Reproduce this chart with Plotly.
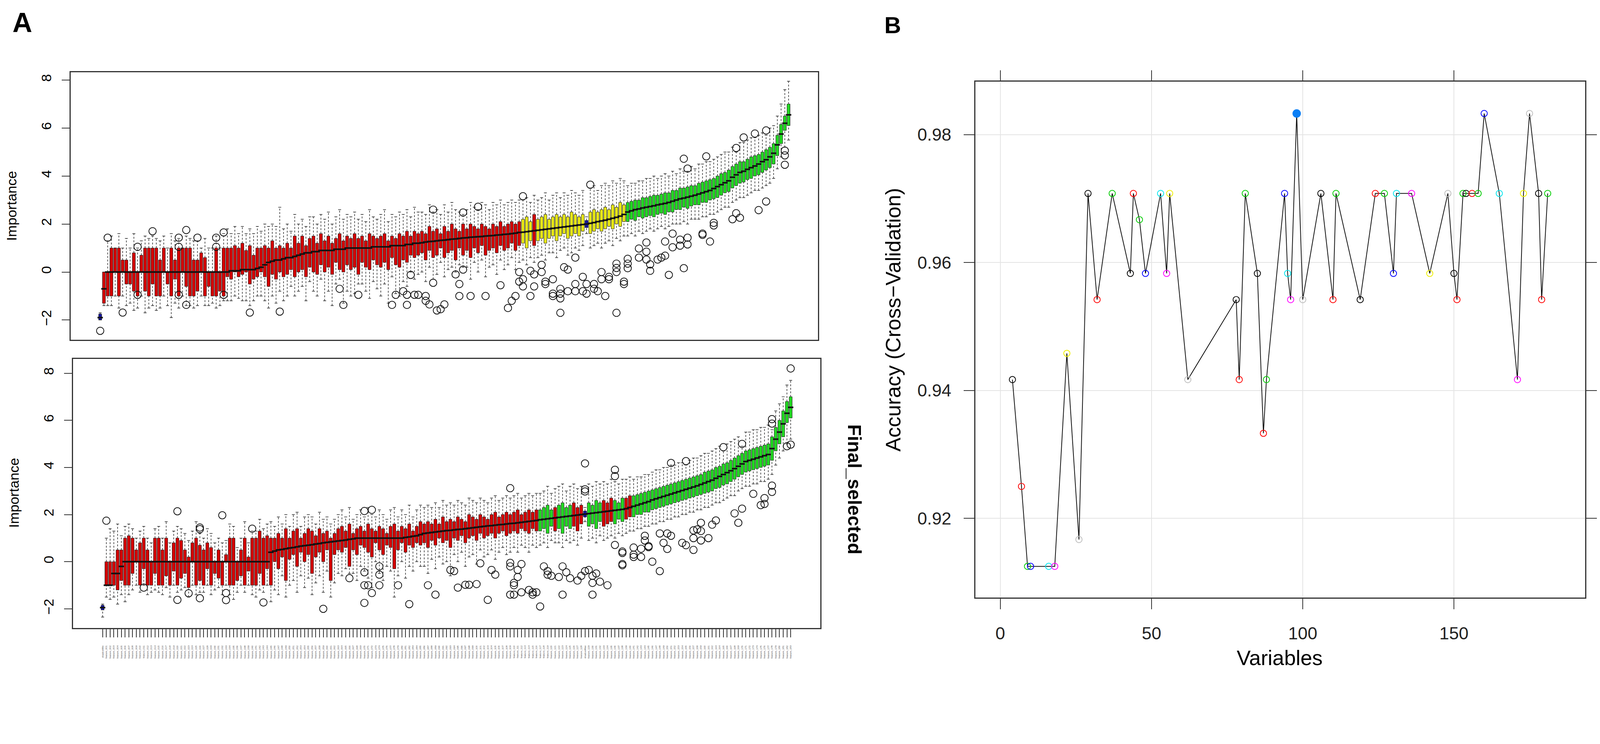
import plotly.graph_objects as go

# design coordinates are the reference picture's pixels; S maps them to page pixels
REF_W, REF_H = 4562, 1905
S = 0.8955
W, H = round(REF_W * S), round(REF_H * S)
FONT = "Liberation Sans"

# ---------------- Panel A, top: Boruta importance (boxes sorted by median) ----------------
# decision runs from left to right: S = shadow, R = rejected, Y = tentative, G = confirmed
TOP_RUNS = [("S", 1), ("R", 112), ("Y", 3), ("R", 1), ("Y", 13), ("S", 1), ("Y", 10), ("G", 44)]

TOP_MED = [
    -1.9, -0.7, 0, 0, 0, 0, 0, 0, 0, 0,
    0, 0, 0, 0, 0, 0, 0, 0, 0, 0,
    0, 0, 0, 0, 0, 0, 0, 0, 0, 0,
    0, 0, 0, 0, 0.0, 0.05, 0.05, 0.05, 0.1, 0.1,
    0.1, 0.1, 0.15, 0.2, 0.3, 0.4, 0.45, 0.5, 0.5, 0.55,
    0.6, 0.6, 0.65, 0.7, 0.75, 0.8, 0.8, 0.85, 0.85, 0.9,
    0.9, 0.9, 0.9, 0.95, 0.95, 0.95, 1.0, 1.0, 1.0, 1.0,
    1.0, 1.0, 1.0, 1.05, 1.05, 1.05, 1.05, 1.05, 1.1, 1.1,
    1.1, 1.1, 1.15, 1.15, 1.2, 1.2, 1.22, 1.25, 1.27, 1.28,
    1.3, 1.32, 1.33, 1.35, 1.37, 1.38, 1.4, 1.42, 1.43, 1.45,
    1.46, 1.47, 1.48, 1.5, 1.51, 1.52, 1.54, 1.55, 1.57, 1.58,
    1.6, 1.62, 1.65, 1.66, 1.68, 1.7, 1.72, 1.74, 1.76, 1.78,
    1.8, 1.82, 1.84, 1.86, 1.88, 1.9, 1.92, 1.94, 1.96, 1.98,
    2.0, 2.03, 2.06, 2.1, 2.13, 2.16, 2.2, 2.24, 2.28, 2.33,
    2.4, 2.5, 2.55, 2.6, 2.63, 2.67, 2.7, 2.73, 2.76, 2.8,
    2.83, 2.86, 2.9, 2.95, 3.0, 3.05, 3.08, 3.12, 3.16, 3.2,
    3.25, 3.3, 3.35, 3.4, 3.48, 3.56, 3.64, 3.72, 3.8, 3.95,
    4.05, 4.15, 4.2, 4.28, 4.35, 4.42, 4.5, 4.6, 4.68, 4.8,
    4.95, 5.3, 5.75, 6.2, 6.55,
]
TOP_Q1 = [
    -2.0, -1.3, -1.0, -1.0, 0.0, -1.0, 0.0, -0.5, -0.5, -0.8,
    -1.0, 0.0, -0.8, -1.0, -0.5, -1.0, -1.0, 0.0, -0.5, -1.0,
    -0.3, -1.0, 0.0, -0.6, -1.0, -1.0, -0.8, 0.0, -1.0, -0.6,
    -1.0, -1.0, -0.8, -1.0, -0.2, -0.3, 0.0, -0.2, -0.1, 0.0,
    -0.5, -0.3, -0.2, 0.0, -0.2, -0.6, -0.1, -0.3, 0.0, -0.2,
    -0.1, 0.1, -0.2, 0.0, 0.1, -0.2, 0.2, 0.0, -0.1, 0.3,
    0.0, 0.2, -0.1, 0.4, 0.1, 0.0, 0.3, 0.1, 0.2, -0.1,
    0.4, 0.2, 0.1, 0.5, 0.3, 0.2, 0.4, 0.1, 0.6, 0.3,
    0.2, 0.5, 0.4, 0.7, 0.6, 0.7, 0.8, 0.5, 0.9, 0.6,
    0.7, 1.0, 0.6, 0.8, 0.9, 0.5, 1.0, 0.7, 0.9, 0.6,
    1.0, 0.8, 1.1, 0.7, 0.9, 1.0, 0.8, 1.1, 0.9, 1.0,
    1.2, 0.9, 1.1, 1.2, 1.0, 1.3, 1.1, 1.3, 1.4, 1.2,
    1.4, 1.5, 1.3, 1.5, 1.6, 1.4, 1.5, 1.6, 1.5, 1.7,
    1.85, 1.6, 1.7, 1.8, 1.7, 1.8, 1.9, 1.8, 2.0, 1.9,
    2.1, 2.1, 2.2, 2.15, 2.3, 2.25, 2.3, 2.35, 2.3, 2.4,
    2.45, 2.4, 2.5, 2.5, 2.6, 2.6, 2.7, 2.65, 2.75, 2.8,
    2.8, 2.9, 2.9, 3.0, 3.05, 3.1, 3.2, 3.3, 3.35, 3.5,
    3.6, 3.7, 3.75, 3.85, 3.9, 4.0, 4.05, 4.15, 4.25, 4.35,
    4.5, 4.85, 5.35, 5.9, 6.1,
]
TOP_Q3 = [
    -1.75, 0.0, 0.0, 1.0, 1.0, 1.0, 0.5, 0.5, 0.0, 0.8,
    0.0, 0.7, 1.0, 1.0, 1.0, 1.0, 0.5, 1.0, 0.0, 1.0,
    0.5, 1.0, 1.0, 1.0, 1.0, 0.5, 0.5, 0.8, 0.6, 0.0,
    0.0, 1.0, 0.0, 1.0, 1.0, 1.0, 1.1, 1.0, 1.2, 0.9,
    1.1, 0.7, 1.0, 1.0, 1.1, 1.0, 1.3, 1.0, 1.1, 1.0,
    1.2, 1.0, 1.5, 1.2, 1.5, 1.1, 1.4, 1.5, 1.2, 1.6,
    1.3, 1.5, 1.2, 1.4, 1.6, 1.3, 1.5, 1.4, 1.6, 1.4,
    1.5, 1.3, 1.6, 1.5, 1.4, 1.5, 1.6, 1.3, 1.5, 1.4,
    1.6, 1.5, 1.7, 1.5, 1.7, 1.6, 1.7, 1.6, 1.9, 1.7,
    1.8, 1.6, 1.9, 1.7, 2.0, 1.8, 1.7, 2.0, 1.8, 2.0,
    1.9, 1.8, 2.0, 1.9, 1.8, 2.0, 1.9, 2.1, 1.9, 2.0,
    2.1, 2.0, 2.1, 2.2, 2.3, 2.1, 2.4, 2.2, 2.3, 2.4,
    2.2, 2.3, 2.4, 2.3, 2.4, 2.3, 2.5, 2.4, 2.3, 2.4,
    2.15, 2.5, 2.6, 2.5, 2.6, 2.7, 2.6, 2.8, 2.7, 2.9,
    2.8, 2.9, 2.95, 3.0, 3.0, 3.1, 3.1, 3.15, 3.2, 3.2,
    3.25, 3.3, 3.3, 3.4, 3.4, 3.5, 3.5, 3.55, 3.6, 3.6,
    3.7, 3.75, 3.8, 3.85, 3.9, 4.0, 4.1, 4.15, 4.25, 4.4,
    4.5, 4.6, 4.6, 4.7, 4.8, 4.85, 4.9, 5.0, 5.1, 5.2,
    5.35, 5.7, 6.15, 6.5, 7.0,
]
TOP_LO = [
    -2.0, -1.4, -1.4, -1.4, -1.0, -1.5, -1.0, -1.4, -1.3, -1.6,
    -1.5, -1.0, -1.7, -1.5, -1.4, -1.6, -1.5, -1.0, -1.4, -1.9,
    -1.3, -1.5, -1.0, -1.4, -1.4, -1.5, -1.4, -1.0, -1.4, -1.4,
    -1.3, -1.5, -1.4, -1.2, -1.2, -1.2, -1.0, -1.1, -1.2, -1.2,
    -1.4, -1.2, -1.0, -1.0, -1.2, -1.5, -1.0, -1.3, -0.8, -1.2,
    -1.0, -0.6, -1.0, -0.8, -0.6, -1.2, -0.4, -0.8, -1.0, -0.3,
    -1.2, -0.8, -1.4, -0.5, -0.3, -1.3, -0.8, -1.0, -0.9, -0.5,
    -0.5, -0.8, -1.1, -0.4, -0.7, -1.0, -0.5, -1.3, -0.2, -0.9,
    -1.0, -0.4, -0.6, 0.0, -0.3, -0.1, 0.0, -0.4, 0.2, -0.3,
    -0.1, 0.4, -0.2, 0.1, 0.2, 0.0, 0.3, 0.2, 0.2, -0.3,
    0.4, 0.0, 0.5, -0.2, 0.2, 0.3, -0.1, 0.5, 0.1, 0.3,
    0.6, 0.1, 0.4, 0.5, 0.3, 0.6, 0.4, 0.6, 0.7, 0.5,
    0.8, 0.8, 0.6, 0.9, 1.0, 0.7, 0.8, 1.0, 0.9, 1.1,
    1.6, 1.0, 1.1, 1.2, 1.0, 1.2, 1.3, 1.1, 1.4, 1.3,
    1.5, 1.5, 1.6, 1.5, 1.7, 1.6, 1.7, 1.8, 1.7, 1.8,
    1.9, 1.8, 1.9, 2.0, 2.0, 2.0, 2.1, 2.0, 2.2, 2.2,
    2.2, 2.3, 2.3, 2.4, 2.4, 2.5, 2.6, 2.7, 2.7, 2.9,
    3.0, 3.1, 3.1, 3.2, 3.3, 3.4, 3.4, 3.5, 3.6, 3.7,
    3.9, 4.3, 4.8, 5.2, 5.5,
]
TOP_HI = [
    -1.7, 0.0, 1.3, 1.5, 1.0, 1.6, 1.0, 1.4, 1.0, 1.6,
    1.0, 1.3, 1.5, 1.4, 1.5, 1.4, 1.3, 1.5, 1.0, 1.6,
    1.3, 1.4, 1.0, 1.5, 1.4, 1.3, 1.3, 1.0, 1.4, 1.0,
    1.0, 1.5, 1.0, 1.6, 1.8, 1.6, 1.9, 1.6, 1.9, 1.6,
    1.8, 1.6, 1.9, 1.7, 2.0, 1.9, 2.0, 1.9, 2.7, 1.8,
    2.0, 1.7, 2.4, 2.0, 2.2, 1.9, 2.3, 2.3, 2.0, 2.4,
    2.2, 2.5, 2.0, 2.3, 2.6, 2.2, 2.4, 2.3, 2.5, 2.2,
    2.4, 2.1, 2.6, 2.3, 2.2, 2.4, 2.6, 2.1, 2.4, 2.3,
    2.5, 2.4, 2.6, 2.3, 2.7, 2.5, 2.5, 2.4, 2.8, 2.5,
    2.6, 2.4, 2.8, 2.5, 2.9, 2.6, 2.5, 2.4, 2.6, 2.9,
    2.7, 2.6, 2.9, 2.8, 2.6, 2.9, 2.8, 3.0, 2.8, 2.9,
    3.0, 2.9, 3.0, 3.0, 3.1, 2.9, 3.2, 3.0, 3.1, 3.3,
    3.0, 3.2, 3.3, 3.1, 3.3, 3.2, 3.4, 3.3, 3.2, 3.4,
    2.3, 3.5, 3.6, 3.4, 3.6, 3.7, 3.6, 3.8, 3.7, 3.9,
    3.8, 3.6, 3.7, 3.7, 3.8, 3.8, 3.9, 3.9, 4.0, 3.9,
    4.0, 4.1, 4.0, 4.2, 4.1, 4.3, 4.2, 4.2, 4.4, 4.3,
    4.5, 4.5, 4.6, 4.6, 4.7, 4.8, 4.9, 5.0, 5.0, 5.2,
    5.0, 5.4, 5.4, 5.5, 5.6, 5.6, 5.7, 5.8, 5.7, 6.0,
    6.1, 6.5, 7.0, 7.6, 7.95,
]
TOP_OUTLIERS = [
    (1, -2.45), (3, 1.43), (7, -1.69), (11, 1.05), (11, -0.95), (15, 1.7), (22, 1.43), (22, 1.05), (22, -0.95),
    (24, 1.75), (24, -1.37), (27, 1.43), (32, 1.43), (32, 1.05), (34, 1.65), (34, -0.95), (41, -1.69),
    (49, -1.65), (65, -0.7), (66, -1.37), (70, -0.95), (79, -1.37), (80, -0.95), (82, -0.8), (83, -0.95),
    (83, -1.37), (84, -0.12), (85, -0.95), (86, -0.95), (88, -1.0), (88, -1.2), (89, -1.35), (90, -0.45),
    (90, 2.6), (91, -1.6), (92, -1.55), (93, -1.35), (96, -0.1), (97, -1.0), (97, -0.5), (98, 0.1), (98, 2.48),
    (100, -1.0), (102, 2.72), (104, -1.0), (108, -0.55), (110, -1.5), (111, -1.2), (112, -1.0), (113, 0.0),
    (113, -0.4), (114, 3.16), (114, -0.6), (114, -0.3), (116, -1.0), (116, 0.05), (117, -0.6), (117, -0.1),
    (119, 0.3), (119, 0.0), (120, -0.4), (120, -0.5), (122, -1.0), (122, -0.9), (122, -0.3), (124, -0.9),
    (124, -0.7), (124, -1.1), (124, -1.7), (125, 0.2), (126, 0.1), (126, -0.8), (128, 0.6), (128, -0.5),
    (128, -0.8), (130, -0.2), (130, -0.8), (131, -0.9), (131, -0.5), (132, 3.64), (133, -0.5), (133, -0.7),
    (134, -0.8), (135, 0.0), (135, -0.3), (136, -1.0), (137, -0.3), (137, -0.2), (139, 0.35), (139, 0.0),
    (139, 0.17), (139, -1.7), (141, -0.5), (141, -0.4), (142, 0.55), (142, 0.35), (142, 0.16), (145, 0.98),
    (145, 0.6), (147, 0.52), (147, 0.85), (147, 1.23), (148, 0.05), (148, 0.32), (150, 0.52), (151, 0.6),
    (152, 0.68), (152, 1.27), (153, -0.12), (154, 1.6), (154, 1.03), (156, 1.35), (156, 1.1), (157, 0.16),
    (157, 4.72), (158, 1.43), (158, 1.15), (158, 4.31), (162, 1.6), (162, 1.55), (163, 4.82), (164, 1.27),
    (165, 2.05), (165, 1.94), (170, 2.2), (171, 2.45), (171, 5.17), (172, 2.26), (173, 5.61), (176, 5.77),
    (177, 2.58), (179, 2.94), (179, 5.9), (184, 5.06), (184, 4.86), (184, 4.47),
]

# ---------------- Panel A, bottom: Final_selected ----------------
BOT_RUNS = [("S", 1), ("R", 116), ("G", 4), ("R", 1), ("G", 4), ("R", 3), ("S", 1), ("G", 4), ("R", 3),
            ("G", 3), ("R", 2), ("G", 43)]

BOT_MED = [
    -1.95, -1.0, -1.0, -0.5, -0.5, -0.2, 0, 0, 0, 0,
    0, 0, 0, 0, 0, 0, 0, 0, 0, 0,
    0, 0, 0, 0, 0, 0, 0, 0, 0, 0,
    0, 0, 0, 0, 0, 0, 0, 0, 0, 0,
    0, 0, 0, 0, 0, 0.4, 0.45, 0.5, 0.52, 0.55,
    0.58, 0.6, 0.63, 0.66, 0.68, 0.7, 0.72, 0.75, 0.77, 0.8,
    0.82, 0.84, 0.86, 0.88, 0.9, 0.92, 0.95, 0.97, 1.0, 1.0,
    1.0, 1.0, 1.0, 1.0, 1.0, 1.0, 1.0, 1.0, 1.0, 1.0,
    1.0, 1.03, 1.05, 1.08, 1.1, 1.15, 1.2, 1.22, 1.24, 1.26,
    1.28, 1.3, 1.32, 1.33, 1.35, 1.37, 1.38, 1.4, 1.42, 1.44,
    1.46, 1.48, 1.5, 1.52, 1.53, 1.55, 1.57, 1.58, 1.6, 1.62,
    1.63, 1.65, 1.67, 1.69, 1.71, 1.73, 1.75, 1.78, 1.8, 1.82,
    1.84, 1.86, 1.88, 1.9, 1.92, 1.94, 1.96, 1.98, 2.0, 2.02,
    2.04, 2.06, 2.08, 2.1, 2.12, 2.14, 2.16, 2.18, 2.2, 2.22,
    2.25, 2.3, 2.35, 2.4, 2.45, 2.5, 2.55, 2.62, 2.67, 2.72,
    2.77, 2.82, 2.87, 2.92, 2.97, 3.02, 3.07, 3.12, 3.17, 3.22,
    3.28, 3.34, 3.4, 3.46, 3.54, 3.62, 3.7, 3.78, 3.86, 3.95,
    4.05, 4.15, 4.25, 4.3, 4.35, 4.4, 4.45, 4.5, 4.55, 4.8,
    5.2, 5.5, 5.85, 6.3, 6.55,
]
BOT_Q1 = [
    -2.05, -1.0, -1.0, -1.0, -1.2, -0.8, -1.0, -1.0, -0.5, 0.0,
    -1.0, -0.3, -1.0, -1.0, -0.5, -1.0, -1.0, -0.6, -1.0, -0.4,
    -1.0, -0.7, -0.5, -1.1, 0.0, -1.0, -0.8, -1.0, -0.3, -1.0,
    -0.5, -0.7, -1.0, 0.0, -1.0, -1.0, -0.8, -0.6, -1.0, -0.4,
    -1.0, -1.0, -0.5, -1.0, -0.3, -1.0, 0.0, -0.3, 0.2, -0.8,
    0.1, 0.3, -0.2, 0.4, 0.0, 0.3, -0.5, 0.2, 0.4, 0.0,
    0.5, -0.8, 0.3, 0.5, 0.4, 0.6, -0.2, 0.5, 0.3, 0.7,
    0.6, 0.4, 0.2, 0.8, 0.5, 0.3, 0.7, 0.6, -0.3, 0.5,
    0.8, 0.4, 0.7, 0.6, 0.8, 0.7, 0.8, 0.6, 0.9, 0.7,
    1.0, 0.8, 0.9, 0.6, 1.0, 0.9, 1.1, 0.8, 1.0, 1.1,
    0.9, 1.2, 1.0, 1.1, 1.2, 1.0, 1.2, 1.3, 1.1, 1.2,
    1.3, 1.2, 1.4, 1.3, 1.2, 1.4, 1.3, 1.3, 1.4, 1.2,
    1.5, 1.3, 1.4, 1.2, 1.5, 1.4, 1.5, 1.3, 1.6, 1.9,
    1.5, 1.6, 1.4, 1.7, 1.5, 1.6, 1.7, 1.6, 1.8, 1.7,
    1.8, 1.9, 1.9, 2.0, 2.0, 2.1, 2.1, 2.2, 2.25, 2.3,
    2.35, 2.4, 2.45, 2.5, 2.55, 2.6, 2.65, 2.7, 2.75, 2.8,
    2.85, 2.9, 2.95, 3.0, 3.1, 3.15, 3.25, 3.3, 3.4, 3.5,
    3.6, 3.7, 3.8, 3.85, 3.9, 3.95, 4.0, 4.05, 4.1, 4.3,
    4.7, 5.0, 5.3, 5.9, 6.1,
]
BOT_Q3 = [
    -1.85, 0.0, 0.0, 0.0, 0.5, 0.5, 1.0, 1.1, 1.0, 0.5,
    0.8, 1.0, 0.5, 0.0, 1.0, 1.0, 0.5, 1.0, 0.0, 0.8,
    1.0, 0.9, 0.5, 0.2, 0.8, 1.0, 0.7, 0.5, 0.8, 0.6,
    0.0, 0.5, 0.0, 0.3, 1.0, 1.0, 0.0, 0.5, 1.0, 0.2,
    1.0, 1.0, 1.3, 1.0, 1.1, 1.0, 1.0, 1.2, 1.0, 1.4,
    1.0, 1.3, 1.4, 1.0, 1.2, 1.4, 1.3, 1.1, 1.4, 1.2,
    1.3, 1.0, 1.2, 1.4, 1.5, 1.3, 1.6, 1.2, 1.4, 1.5,
    1.3, 1.6, 1.4, 1.3, 1.5, 1.4, 1.2, 1.5, 1.6, 1.3,
    1.5, 1.4, 1.6, 1.3, 1.5, 1.7, 1.6, 1.7, 1.6, 1.8,
    1.6, 1.9, 1.7, 1.8, 1.7, 1.9, 1.8, 1.7, 2.0, 1.9,
    1.8, 2.0, 1.9, 1.8, 2.0, 2.1, 1.9, 2.0, 2.1, 2.0,
    2.1, 2.2, 2.0, 2.1, 2.2, 2.1, 2.2, 2.2, 2.3, 2.4,
    2.2, 2.3, 2.4, 2.5, 2.3, 2.4, 2.5, 2.3, 2.4, 2.15,
    2.5, 2.4, 2.6, 2.5, 2.6, 2.5, 2.7, 2.6, 2.5, 2.7,
    2.7, 2.8, 2.8, 2.85, 2.9, 2.95, 3.0, 3.05, 3.1, 3.15,
    3.2, 3.25, 3.3, 3.35, 3.4, 3.45, 3.5, 3.55, 3.6, 3.65,
    3.7, 3.8, 3.85, 3.9, 4.0, 4.05, 4.15, 4.2, 4.3, 4.4,
    4.5, 4.6, 4.7, 4.75, 4.8, 4.85, 4.9, 4.95, 5.0, 5.3,
    5.7, 6.0, 6.4, 6.8, 7.0,
]
BOT_LO = [
    -2.35, -1.5, -1.6, -1.5, -1.8, -1.4, -1.7, -1.4, -1.2, -1.0,
    -1.3, -1.0, -1.4, -1.3, -1.2, -1.3, -1.4, -1.1, -1.5, -1.0,
    -1.3, -1.2, -1.1, -1.5, -1.0, -1.4, -1.3, -1.3, -1.0, -1.4,
    -1.2, -1.1, -1.4, -1.0, -1.4, -1.6, -1.3, -1.0, -1.3, -1.0,
    -1.4, -1.5, -1.2, -1.3, -1.0, -1.7, -1.2, -1.4, -0.6, -1.5,
    -1.0, -0.8, -1.3, -0.6, -1.1, -0.7, -1.4, -0.9, -0.6, -1.3,
    -0.4, -1.5, -0.9, -0.5, -0.6, -0.3, -0.5, -0.5, -0.8, -0.2,
    -0.4, -0.7, -1.1, 0.0, -0.5, -0.8, -0.2, -0.4, -1.5, -0.6,
    0.0, -0.7, -0.2, -0.4, 0.0, -0.2, -0.2, -0.5, 0.1, -0.3,
    0.2, -0.1, 0.0, -0.6, 0.3, 0.0, 0.4, -0.2, 0.2, 0.3,
    -0.1, 0.5, 0.2, 0.3, 0.5, 0.1, 0.4, 0.6, 0.3, 0.4,
    0.6, 0.4, 0.7, 0.6, 0.4, 0.7, 0.6, 0.7, 0.8, 0.6,
    0.9, 0.8, 0.8, 0.6, 0.9, 0.8, 0.9, 0.7, 1.0, 1.7,
    0.9, 1.0, 0.8, 1.1, 0.9, 1.0, 1.1, 1.0, 1.2, 1.1,
    1.2, 1.3, 1.3, 1.4, 1.4, 1.5, 1.5, 1.6, 1.6, 1.7,
    1.7, 1.8, 1.8, 1.9, 1.9, 2.0, 2.0, 2.1, 2.1, 2.2,
    2.2, 2.3, 2.3, 2.4, 2.5, 2.5, 2.6, 2.7, 2.8, 2.8,
    3.0, 3.1, 3.2, 3.2, 3.3, 3.3, 3.4, 3.4, 3.5, 3.7,
    4.1, 4.4, 4.7, 5.0, 5.2,
]
BOT_HI = [
    -1.8, 1.0, 1.4, 1.3, 1.6, 1.1, 1.5, 1.6, 1.4, 1.0,
    1.3, 1.5, 1.0, 0.8, 1.4, 1.5, 1.0, 1.7, 0.8, 1.3,
    1.5, 1.4, 1.2, 0.9, 1.3, 1.7, 1.2, 1.0, 1.4, 1.2,
    0.8, 1.0, 0.8, 0.9, 1.6, 1.5, 0.6, 1.0, 1.7, 0.8,
    1.3, 1.3, 1.8, 1.4, 1.6, 1.7, 1.5, 1.9, 1.6, 2.0,
    1.5, 2.0, 2.1, 1.5, 1.9, 2.0, 1.9, 1.6, 2.1, 1.8,
    1.9, 1.6, 1.8, 2.0, 2.2, 1.9, 2.3, 1.8, 2.0, 2.2,
    1.9, 2.3, 2.0, 1.9, 2.2, 2.0, 1.8, 2.2, 2.3, 1.9,
    2.2, 2.0, 2.4, 1.9, 2.2, 2.4, 2.3, 2.4, 2.3, 2.5,
    2.3, 2.6, 2.4, 2.5, 2.4, 2.6, 2.5, 2.4, 2.7, 2.6,
    2.5, 2.7, 2.6, 2.5, 2.7, 2.8, 2.6, 2.7, 2.8, 2.7,
    2.8, 2.9, 2.7, 2.8, 2.9, 2.8, 2.9, 2.9, 3.0, 3.2,
    2.9, 3.1, 3.2, 3.3, 3.0, 3.2, 3.3, 3.1, 3.2, 2.3,
    3.3, 3.2, 3.4, 3.3, 3.4, 3.3, 3.5, 3.4, 3.3, 3.5,
    3.5, 3.6, 3.5, 3.6, 3.6, 3.7, 3.7, 3.8, 3.9, 3.9,
    4.0, 4.0, 4.1, 4.1, 4.2, 4.2, 4.1, 4.3, 4.4, 4.4,
    4.5, 4.6, 4.6, 4.7, 4.8, 4.9, 4.7, 5.0, 5.1, 5.2,
    5.3, 4.9, 5.5, 5.5, 5.6, 5.6, 5.7, 5.7, 5.8, 5.6,
    6.4, 6.7, 7.0, 7.5, 7.7,
]
BOT_OUTLIERS = [
    (2, 1.74), (12, -1.1), (21, 2.14), (21, -1.62), (24, -1.34), (27, 1.45), (27, 1.38), (27, -1.55),
    (33, 1.97), (34, -1.33), (34, -1.63), (41, 1.4), (44, -1.73), (60, -2.0), (67, -0.7), (71, -0.45),
    (71, -1.0), (71, -1.75), (71, 2.15), (72, -1.0), (73, -1.33), (73, 2.2), (75, -0.2), (75, -0.55),
    (75, -1.0), (80, -1.0), (83, -1.8), (88, -1.0), (90, -1.4), (94, -0.35), (95, -0.4), (96, -1.1),
    (98, -0.98), (99, -0.98), (101, -0.95), (102, -0.07), (104, -1.62), (105, -0.35), (106, -0.55),
    (110, 3.12), (110, -0.05), (110, -0.2), (110, -1.4), (111, -0.9), (111, -1.0), (111, -1.4), (112, -0.65),
    (112, -0.35), (113, -0.1), (113, -1.3), (115, -1.2), (116, -1.3), (116, -1.4), (117, -1.3), (118, -1.9),
    (119, -0.2), (120, -0.4), (120, -0.55), (121, -0.6), (123, -0.65), (124, -1.4), (124, -0.2), (125, -0.45),
    (126, -0.7), (128, -0.8), (129, -0.6), (130, -0.4), (131, -0.35), (132, -0.6), (132, -0.9), (132, -1.4),
    (133, -0.5), (134, -0.85), (136, -1.0), (130, 4.17), (130, 3.07), (130, 2.98), (138, 3.9), (138, 3.63),
    (138, 0.71), (140, 0.43), (140, 0.37), (140, -0.1), (140, -0.15), (143, 0.6), (143, 0.3), (143, 0.2),
    (145, 0.55), (145, 0.2), (146, 1.1), (146, 0.9), (147, 0.66), (147, 0.62), (148, 0.0), (150, -0.4),
    (150, 1.2), (151, 0.8), (152, 0.54), (152, 1.2), (153, 1.1), (153, 4.19), (156, 0.8), (157, 0.7),
    (157, 4.27), (159, 0.5), (159, 1.33), (159, 1.0), (160, 1.37), (161, 0.9), (161, 1.3), (161, 1.65),
    (163, 1.0), (164, 1.57), (165, 1.75), (167, 4.86), (170, 2.05), (171, 1.65), (172, 2.25), (172, 5.0),
    (175, 2.88), (177, 2.4), (178, 2.45), (178, 2.7), (180, 3.23), (180, 2.96), (180, 6.05), (180, 5.86),
    (184, 4.9), (185, 4.97), (185, 8.2),
]
BOT_LABELS = ["shadowMin"] + [f"feature_{k:03d}" for k in range(1, 129)] + ["shadowMax"] + \
             [f"feature_{k:03d}" for k in range(129, 184)]

# ---------------- Panel B: RFE accuracy vs number of variables ----------------
RFE_VARS = [4, 7, 9, 10, 16, 18, 22, 26, 29, 32, 37, 43, 44, 46, 48, 53, 55, 56, 62, 78,
            79, 81, 85, 87, 88, 94, 95, 96, 98, 100, 106, 110, 111, 119, 124, 127, 130, 131, 136, 142,
            148, 150, 151, 153, 154, 156, 158, 160, 165, 171, 173, 175, 178, 179, 181]
RFE_ACC = [0.9417, 0.925, 0.9125, 0.9125, 0.9125, 0.9125, 0.9458, 0.9167, 0.9708, 0.9542,
           0.9708, 0.9583, 0.9708, 0.9667, 0.9583, 0.9708, 0.9583, 0.9708, 0.9417, 0.9542,
           0.9417, 0.9708, 0.9583, 0.9333, 0.9417, 0.9708, 0.9583, 0.9542, 0.9833, 0.9542,
           0.9708, 0.9542, 0.9708, 0.9542, 0.9708, 0.9708, 0.9583, 0.9708, 0.9708, 0.9583,
           0.9708, 0.9583, 0.9542, 0.9708, 0.9708, 0.9708, 0.9708, 0.9833, 0.9708, 0.9417,
           0.9708, 0.9833, 0.9708, 0.9542, 0.9708]
RFE_COLOR_CODES = "krgbcmye" "krg" "krgbcmye" "krg" "krgbcmye" "krg" "krgbcmye" "krg" "krgbcmye" "krg"

PALETTE = {"k": "#000000", "r": "#FF0000", "g": "#00CD00", "b": "#0000FF",
           "c": "#00E5EE", "m": "#FF00FF", "y": "#EEEE00", "e": "#BEBEBE"}
DECISION_COLORS = {"R": "#d40000", "Y": "#e8e817", "G": "#22d822", "S": "#1414a0"}

for name, arr in [("TOP_MED", TOP_MED), ("TOP_Q1", TOP_Q1), ("TOP_Q3", TOP_Q3), ("TOP_LO", TOP_LO),
                  ("TOP_HI", TOP_HI), ("BOT_MED", BOT_MED), ("BOT_Q1", BOT_Q1), ("BOT_Q3", BOT_Q3),
                  ("BOT_LO", BOT_LO), ("BOT_HI", BOT_HI)]:
    if len(arr) != 185:
        raise ValueError(f"{name} has {len(arr)} values")
if len(RFE_VARS) != len(RFE_ACC) or len(RFE_COLOR_CODES) != len(RFE_ACC):
    raise ValueError("panel B lengths differ")


def px_x(p):
    return p / REF_W


def px_y(p):
    return 1 - p / REF_H


def sz(v):
    return v * S


def isz(v):
    return int(round(v * S))


def add_boruta(fig, xa, ya, runs, med, q1, q3, lo, hi, outliers):
    dec = [code for code, n in runs for _ in range(n)]
    pos = list(range(1, len(med) + 1))
    for code, color in DECISION_COLORS.items():
        idx = [i for i, d in enumerate(dec) if d == code]
        fig.add_trace(go.Bar(
            x=[pos[i] for i in idx],
            y=[q3[i] - q1[i] for i in idx],
            base=[q1[i] for i in idx],
            width=0.8,
            marker=dict(color=color, line=dict(color="#1a1a1a", width=1)),
            xaxis=xa, yaxis=ya, showlegend=False, hoverinfo="skip",
        ))
    wx, wy = [], []
    for p, a, b, c, d in zip(pos, lo, q1, q3, hi):
        wx += [p, p, None, p, p, None]
        wy += [a, b, None, c, d, None]
    fig.add_trace(go.Scatter(
        x=wx, y=wy, mode="lines", line=dict(color="#222222", width=sz(1.6), dash="5px,4px"),
        xaxis=xa, yaxis=ya, showlegend=False, hoverinfo="skip",
    ))
    fig.add_trace(go.Scatter(
        x=pos + pos, y=lo + hi, mode="markers",
        marker=dict(symbol="line-ew", size=sz(6), color="#222222", line=dict(color="#222222", width=sz(1.6))),
        xaxis=xa, yaxis=ya, showlegend=False, hoverinfo="skip",
    ))
    fig.add_trace(go.Scatter(
        x=pos, y=med, mode="markers",
        marker=dict(symbol="line-ew", size=sz(11), color="#111111", line=dict(color="#111111", width=sz(4.5))),
        xaxis=xa, yaxis=ya, showlegend=False, hoverinfo="skip",
    ))
    fig.add_trace(go.Scatter(
        x=[o[0] for o in outliers], y=[o[1] for o in outliers], mode="markers",
        marker=dict(symbol="circle-open", size=sz(21), color="#111111",
                    line=dict(color="#111111", width=sz(2.2))),
        xaxis=xa, yaxis=ya, showlegend=False, hoverinfo="skip",
    ))


fig = go.Figure()
add_boruta(fig, "x", "y", TOP_RUNS, TOP_MED, TOP_Q1, TOP_Q3, TOP_LO, TOP_HI, TOP_OUTLIERS)
add_boruta(fig, "x2", "y2", BOT_RUNS, BOT_MED, BOT_Q1, BOT_Q3, BOT_LO, BOT_HI, BOT_OUTLIERS)

# panel B
fig.add_trace(go.Scatter(
    x=RFE_VARS, y=RFE_ACC, mode="lines", line=dict(color="#111111", width=sz(2.2)),
    xaxis="x3", yaxis="y3", showlegend=False,
))
fig.add_trace(go.Scatter(
    x=RFE_VARS, y=RFE_ACC, mode="markers",
    marker=dict(symbol="circle-open", size=sz(18), color=[PALETTE[c] for c in RFE_COLOR_CODES],
                line=dict(width=sz(2.2))),
    xaxis="x3", yaxis="y3", showlegend=False,
))
best = RFE_ACC.index(max(RFE_ACC))
fig.add_trace(go.Scatter(
    x=[RFE_VARS[best]], y=[RFE_ACC[best]], mode="markers",
    marker=dict(symbol="circle", size=sz(24), color="#0a7ff5"),
    xaxis="x3", yaxis="y3", showlegend=False,
))

frame = dict(showline=True, mirror=True, linecolor="#333333", linewidth=sz(3), showgrid=False, zeroline=False)
ya_common = dict(tickvals=[-2, 0, 2, 4, 6, 8], ticks="outside", ticklen=isz(22), tickwidth=sz(2.5),
                 tickcolor="#333333", tickangle=-90, tickfont=dict(size=sz(40), color="black"),
                 ticklabelstandoff=isz(14))
b_axis = dict(ticks="outside", ticklen=isz(30), tickwidth=sz(2.5), tickcolor="#333333",
              tickfont=dict(size=sz(50), color="#222222"), ticklabelstandoff=isz(26),
              showline=True, mirror="ticks", linecolor="#333333", linewidth=sz(3),
              showgrid=True, gridcolor="#e4e4e4", gridwidth=sz(2), zeroline=False)

fig.update_layout(
    width=W, height=H, margin=dict(l=0, r=0, t=0, b=0),
    paper_bgcolor="white", plot_bgcolor="white",
    barmode="overlay", showlegend=False,
    font=dict(family=FONT, color="black"),
    xaxis=dict(domain=[px_x(193), px_x(2330)], range=[-6.9, 192.9], showticklabels=False, ticks="",
               anchor="y", **frame),
    yaxis=dict(domain=[px_y(963), px_y(198)], range=[-2.83, 8.32], anchor="x", **frame, **ya_common),
    xaxis2=dict(domain=[px_x(200), px_x(2336)], range=[-6.9, 192.9], anchor="y2",
                tickvals=list(range(1, len(BOT_LABELS) + 1)), ticktext=BOT_LABELS,
                ticks="outside", ticklen=isz(24), tickwidth=sz(2.5), tickcolor="#333333", tickangle=-90,
                tickfont=dict(size=sz(7), color="#444444"), ticklabelstandoff=isz(20), **frame),
    yaxis2=dict(domain=[px_y(1787), px_y(1017)], range=[-2.82, 8.61], anchor="x2", **frame, **ya_common),
    xaxis3=dict(domain=[px_x(2780), px_x(4523)], range=[-8.2, 193.4], anchor="y3",
                tickvals=[0, 50, 100, 150], **b_axis),
    yaxis3=dict(domain=[px_y(1700), px_y(225)], range=[0.9076, 0.98825], anchor="x3",
                tickvals=[0.92, 0.94, 0.96, 0.98], ticktext=["0.92", "0.94", "0.96", "0.98"], **b_axis),
)


def label(text, x, y, size, angle=0, bold=False):
    fig.add_annotation(
        text=f"<b>{text}</b>" if bold else text, x=px_x(x), y=px_y(y), xref="paper", yref="paper",
        showarrow=False, textangle=angle, xanchor="center", yanchor="middle",
        font=dict(family=FONT, size=sz(size), color="black"),
    )


label("A", 55, 56, 78, bold=True)
label("B", 2543, 63, 66, bold=True)
label("Importance", 25, 580, 40, angle=-90)
label("Importance", 31, 1400, 40, angle=-90)
label("Final_selected", 2435, 1390, 54, angle=90, bold=True)
label("Accuracy (Cross\u2212Validation)", 2545, 905, 60, angle=-90)
label("Variables", 3650, 1871, 60)

fig.write_html("out.html")
